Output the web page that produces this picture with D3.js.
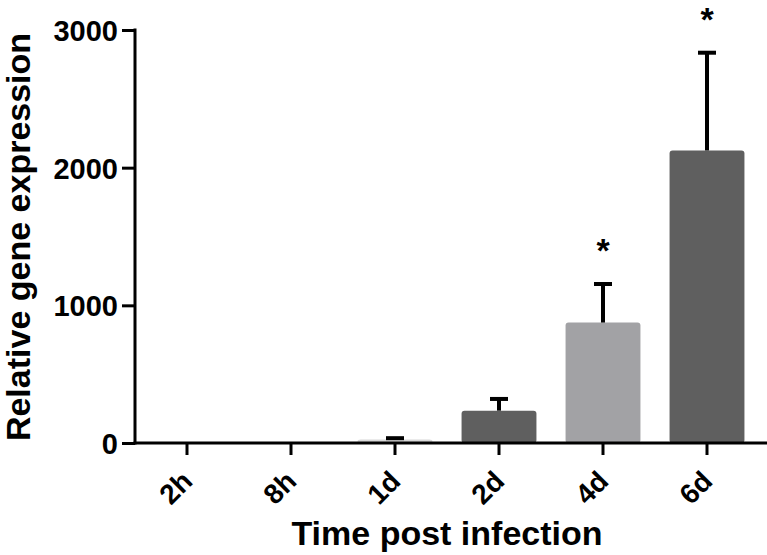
<!DOCTYPE html>
<html><head><meta charset="utf-8">
<script src="https://cdn.jsdelivr.net/npm/d3@7"></script>
<style>body{margin:0;background:#fff}</style>
</head><body>
<svg id="c" width="767" height="555"></svg>
<script>
const categories = ["2h","8h","1d","2d","4d","6d"];
const values = [1, 1, 25, 235, 875, 2125];
const errors = [0, 0, 10, 85, 280, 710];
const colors = ["#5f5f5f","#5f5f5f","#d8d8d8","#5f5f5f","#a2a2a5","#5f5f5f"];
const stars = ["","","","","*","*"];
const yTicks = [0,1000,2000,3000];

const svg = d3.select("#c");
const font = "'Liberation Sans', Arial, sans-serif";
const x = d3.scaleBand().domain(categories).range([135,759]).paddingInner(0.28).paddingOuter(0.14);
const y = d3.scaleLinear().domain([0,3000]).range([443,30]);

const g = svg.append("g");
g.selectAll("rect.bar").data(categories).join("rect")
  .attr("x", d=>x(d)).attr("width", x.bandwidth())
  .attr("y", (d,i)=>y(values[i])).attr("height",(d,i)=>y(0)-y(values[i]))
  .attr("rx",3).attr("fill",(d,i)=>colors[i]);

// error bars
const eb = categories.map((c,i)=>({c,v:values[i],e:errors[i]})).filter(d=>d.e>0);
g.selectAll("line.err").data(eb).join("line")
  .attr("x1",d=>x(d.c)+x.bandwidth()/2).attr("x2",d=>x(d.c)+x.bandwidth()/2)
  .attr("y1",d=>y(d.v)).attr("y2",d=>y(d.v+d.e)).attr("stroke","#000").attr("stroke-width",4);
g.selectAll("line.cap").data(eb).join("line")
  .attr("x1",d=>x(d.c)+x.bandwidth()/2-9).attr("x2",d=>x(d.c)+x.bandwidth()/2+9)
  .attr("y1",d=>y(d.v+d.e)).attr("y2",d=>y(d.v+d.e)).attr("stroke","#000").attr("stroke-width",4);

// stars
g.selectAll("text.star").data(categories.map((c,i)=>({c,s:stars[i],t:values[i]+errors[i]})).filter(d=>d.s))
  .join("text").attr("x",d=>x(d.c)+x.bandwidth()/2).attr("y",d=>y(d.t)-22)
  .attr("text-anchor","middle").attr("font-family",font).attr("font-weight","bold")
  .attr("font-size",34).text(d=>d.s);

// y axis
const ya = svg.append("g").attr("transform","translate(135,0)")
  .call(d3.axisLeft(y).tickValues(yTicks).tickSize(13).tickPadding(4).tickFormat(d3.format("d")));
ya.select(".domain").attr("stroke-width",3).attr("d","M0,"+(y(0)+1.5)+"V"+(y(3000)-1.5));
ya.selectAll(".tick line").attr("stroke-width",3);
ya.selectAll(".tick text").attr("font-family",font).attr("font-weight","bold").attr("font-size",29).attr("fill","#000")
  .attr("dy","0.36em");

// x axis
const xa = svg.append("g").attr("transform","translate(0,"+y(0)+")")
  .call(d3.axisBottom(x).tickSize(12).tickSizeOuter(0));
xa.select(".domain").attr("stroke-width",3).attr("d","M133.5,0H767");
xa.selectAll(".tick line").attr("stroke-width",3);
xa.selectAll(".tick text").attr("font-family",font).attr("font-weight","bold").attr("font-size",28).attr("fill","#000")
  .attr("text-anchor","end").attr("dy",null).attr("y",0)
  .attr("transform","translate(7,40) rotate(-45)");

svg.append("text").attr("x",447).attr("y",545).attr("text-anchor","middle")
  .attr("font-family",font).attr("font-weight","bold").attr("font-size",34).text("Time post infection");
svg.append("text").attr("transform","translate(30,237) rotate(-90)").attr("text-anchor","middle")
  .attr("font-family",font).attr("font-weight","bold").attr("font-size",34).text("Relative gene expression");
</script>
</body></html>
